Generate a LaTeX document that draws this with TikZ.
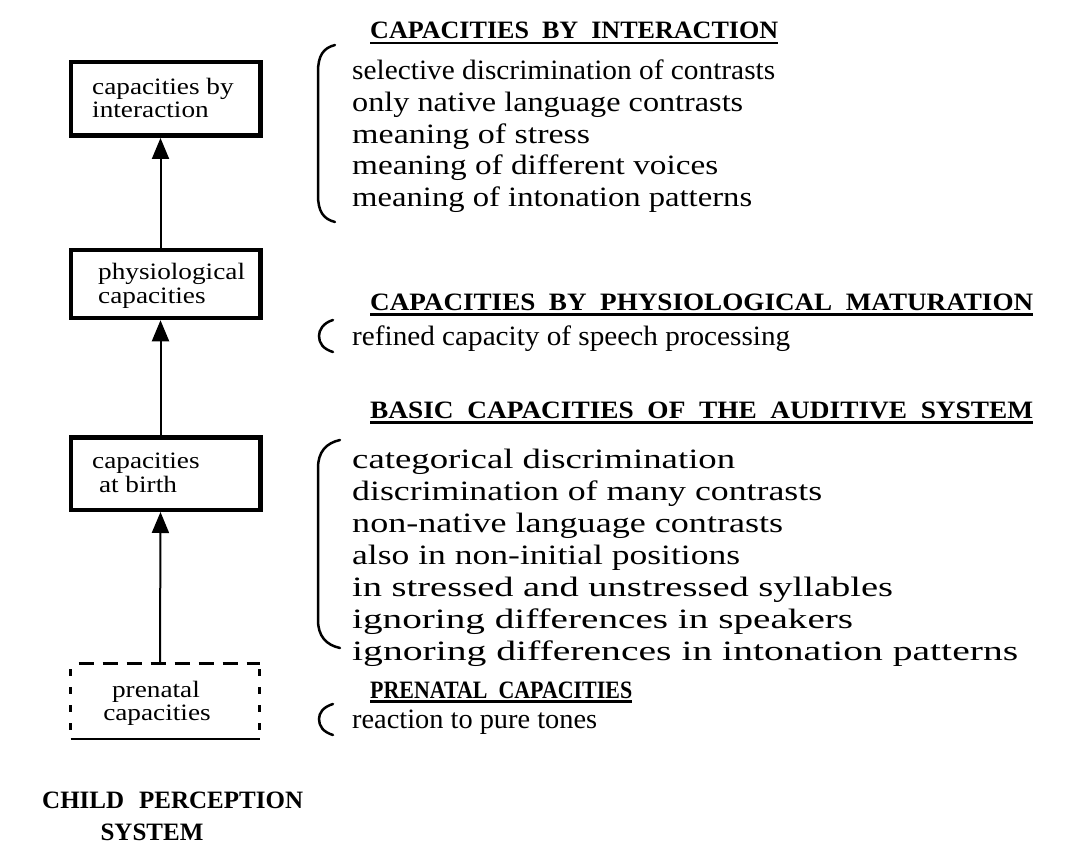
\documentclass[tikz,border=0pt]{standalone}
\usepackage{fontspec}
\usepackage{graphicx}
\setmainfont{Liberation Serif}
\newfontfamily\itemfont[FakeStretch=1.16]{Liberation Serif}
\newfontfamily\headfont[FakeStretch=1.1]{Liberation Serif}
\usetikzlibrary{arrows.meta}
\newcommand{\wsp}{\hspace{0.55em}}
\newcommand{\fitw}[2]{\resizebox{#1}{\height}{#2}}
\begin{document}
\begin{tikzpicture}[x=1pt,y=-1pt,
  capbox/.style={draw, line width=4.5pt, minimum width=189.5pt, inner sep=0pt},
  pbox/.style={minimum width=189pt, minimum height=76pt, inner sep=0pt, outer sep=0pt},
  boxtext/.style={inner sep=0pt, font=\itemfont\fontsize{23.5}{25}\selectfont, anchor=base west},
  item/.style={inner sep=0pt, font=\itemfont\fontsize{28}{30}\selectfont, anchor=base west},
  head/.style={inner sep=0pt, font=\headfont\bfseries\fontsize{25}{27}\selectfont, anchor=base west},
  title/.style={inner sep=0pt, font=\bfseries\fontsize{25}{27}\selectfont},
  uline/.style={line width=2.5pt},
  brack/.style={line width=2.5pt, line cap=round},
  arr/.style={line width=2pt, -{Triangle[length=21pt,width=17pt]}},
]
\useasboundingbox (0,0) rectangle (1071,861);

% ---- boxes ----
\node[capbox, minimum height=73.5pt] (b1) at (165.5,99) {};
\node[capbox, minimum height=68pt] (b2) at (165.5,284) {};
\node[capbox, minimum height=72.5pt] (b3) at (165.5,473.5) {};
\node[pbox] (b4) at (165,701) {};

\node[boxtext] (t1a) at (92,95) {capacities by};
\node[boxtext] (t1b) at (92,118) {interaction};
\node[boxtext] (t2a) at (98,279) {physiological};
\node[boxtext] (t2b) at (98,303) {capacities};
\node[boxtext] (t3a) at (92,468) {capacities};
\node[boxtext] (t3b) at (92,492) {\ at birth};
\node[boxtext, anchor=base] (t4a) at (156,697) {prenatal};
\node[boxtext, anchor=base] (t4b) at (157,720) {capacities};

% prenatal box outline: dashed top and sides, solid bottom
\draw[line width=3pt, dash pattern=on 15pt off 9pt] (b4.north west) ++(8pt,0) -- (b4.north east);
\draw[line width=2.2pt, dash pattern=on 7pt off 11pt] (b4.north west) ++(0,-6pt) -- (b4.south west);
\draw[line width=2.2pt, dash pattern=on 7pt off 11pt] (b4.north east) ++(0,-6pt) -- (b4.south east);
\draw[line width=2.5pt] (b4.south west) -- (b4.south east);

% ---- arrows ----
\draw[arr] ([xshift=-5pt]b4.north) -- ([xshift=-5pt]b3.south);
\draw[arr] ([xshift=-5pt]b3.north) -- ([xshift=-5pt]b2.south);
\draw[arr] ([xshift=-5pt]b2.north) -- ([xshift=-5pt]b1.south);

% ---- group 1 ----
\node[head] (h1) at (370,38.5) {\fitw{408pt}{CAPACITIES\wsp BY\wsp INTERACTION}};
\draw[uline] ([yshift=-4.5pt]h1.base west) -- ([yshift=-4.5pt]h1.base east);
\foreach \w/\t [count=\i] in {423/selective discrimination of contrasts,
  391/only native language contrasts, 238/meaning of stress,
  366/meaning of different voices, 400/meaning of intonation patterns}
  \node[item] (a\i) at (352,{80+31.6*(\i-1)}) {\fitw{\w pt}{\t}};
\draw[brack] (335,45) .. controls (323,48) and (318,56) .. (318,72) -- (318,195) .. controls (318,211) and (323,219) .. (335,222);

% ---- group 2 ----
\node[head] (h2) at (370,310) {\fitw{663pt}{CAPACITIES\wsp BY\wsp PHYSIOLOGICAL\wsp MATURATION}};
\draw[uline] ([yshift=-4.5pt]h2.base west) -- ([yshift=-4.5pt]h2.base east);
\node[item] (p1) at (352,345) {\fitw{438pt}{refined capacity of speech processing}};
\draw[brack] (333,320) .. controls (323,323) and (319,330) .. (319,336) .. controls (319,343) and (323,349) .. (333,352);

% ---- group 3 ----
\node[head] (h3) at (370,418) {\fitw{663pt}{BASIC\wsp CAPACITIES\wsp OF\wsp THE\wsp AUDITIVE\wsp SYSTEM}};
\draw[uline] ([yshift=-4.5pt]h3.base west) -- ([yshift=-4.5pt]h3.base east);
\foreach \w/\t [count=\i] in {383/categorical discrimination,
  470/discrimination of many contrasts, 431/non-native language contrasts,
  388/also in non-initial positions, 541/in stressed and unstressed syllables,
  501/ignoring differences in speakers, 666/ignoring differences in intonation patterns}
  \node[item] (c\i) at (352,{468+32*(\i-1)}) {\fitw{\w pt}{\t}};
\draw[brack] (340,440) .. controls (326,443) and (318,452) .. (318,468) -- (318,620) .. controls (318,636) and (326,645) .. (340,648);

% ---- group 4 ----
\node[head] (h4) at (370,698) {\fitw{262pt}{PRENATAL\wsp CAPACITIES}};
\draw[uline] ([yshift=-3.5pt]h4.base west) -- ([yshift=-3.5pt]h4.base east);
\node[item] (r1) at (352,728) {\fitw{245pt}{reaction to pure tones}};
\draw[brack] (333,704) .. controls (323,707) and (319,713) .. (319,719) .. controls (319,726) and (323,732) .. (333,735);

% ---- title ----
\node[title, anchor=base west] (s1) at (42,808) {CHILD\hspace{0.6em}PERCEPTION};
\node[title, anchor=base] (s2) at (152,840) {SYSTEM};
\end{tikzpicture}
\end{document}
